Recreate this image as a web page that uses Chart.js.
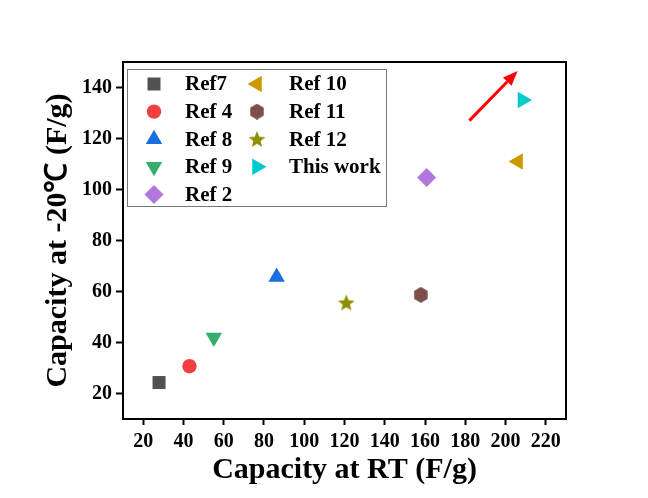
<!DOCTYPE html>
<html lang="en">
<head>
<meta charset="UTF-8">
<title>Capacity at -20℃ vs RT</title>
<script src="https://cdn.jsdelivr.net/npm/chart.js@4.4.1/dist/chart.umd.min.js"></script>
<style>
  html, body { margin: 0; padding: 0; background: #fff; }
  #wrap { width: 648px; height: 498px; }
</style>
</head>
<body>
<div id="wrap"><canvas id="chart" width="648" height="498"></canvas></div>
<script>
// data
const refNames = ['Ref7', 'Ref 4', 'Ref 8', 'Ref 9', 'Ref 2', 'Ref 10', 'Ref 11', 'Ref 12', 'This work'];
const capRT    = [27.9, 43.0, 86.3, 55.1, 160.8, 206.2, 157.9, 120.9, 208.4];
const capLow   = [24.3, 30.7, 65.7, 42.0, 104.7, 111.0, 58.7, 55.6, 135.1];
const colors   = ['#515151', '#F14040', '#1A6FDF', '#37AD6B', '#B177DE', '#CC9900', '#7D4E4E', '#8E8E00', '#00CBCC'];
const xTicks = [20, 40, 60, 80, 100, 120, 140, 160, 180, 200, 220];
const yTicks = [20, 40, 60, 80, 100, 120, 140];
// arrow from (x0,y0) to (x1,y1) in data units
const arrowX = [182, 206];
const arrowY = [127, 146.5];

const FONT = "'Liberation Serif', 'Times New Roman', serif";

function makeShape(color, size, drawFn) {
    const c = document.createElement('canvas');
    c.width = size; c.height = size;
    const g = c.getContext('2d');
    g.fillStyle = color;
    g.beginPath();
    drawFn(g, size / 2);
    g.closePath();
    g.fill();
    return c;
}
function hexagon(color) {
    return makeShape(color, 16, (g, h) => {
        for (let i = 0; i < 6; i++) {
            const a = Math.PI / 6 + i * Math.PI / 3;
            const px = h + 7.8 * Math.cos(a), py = h + 8 * Math.sin(a);
            if (i === 0) g.moveTo(px, py); else g.lineTo(px, py);
        }
    });
}
function star(color) {
    return makeShape(color, 18, (g, h) => {
        for (let i = 0; i < 10; i++) {
            const r = i % 2 === 0 ? 8.8 : 3.8;
            const a = -Math.PI / 2 + i * Math.PI / 5;
            const px = h + r * Math.cos(a), py = h + 0.6 + r * Math.sin(a);
            if (i === 0) g.moveTo(px, py); else g.lineTo(px, py);
        }
    });
}

const styles = [
    { pointStyle: 'rect', radius: 9.2, rotation: 0 },
    { pointStyle: 'circle', radius: 7.2, rotation: 0 },
    { pointStyle: 'triangle', radius: 9.5, rotation: 0 },
    { pointStyle: 'triangle', radius: 9.5, rotation: 180 },
    { pointStyle: 'rectRot', radius: 9.5, rotation: 0 },
    { pointStyle: 'triangle', radius: 9.5, rotation: 270 },
    { pointStyle: hexagon(colors[6]), radius: 8, rotation: 0 },
    { pointStyle: star(colors[7]), radius: 9, rotation: 0 },
    { pointStyle: 'triangle', radius: 9.5, rotation: 90 }
];

const datasets = refNames.map((name, i) => ({
    label: name,
    data: [{ x: capRT[i], y: capLow[i] }],
    backgroundColor: colors[i],
    borderColor: colors[i],
    pointBorderWidth: 0,
    pointStyle: styles[i].pointStyle,
    pointRadius: styles[i].radius,
    pointRotation: styles[i].rotation
}));

// full box around plot area + arrow + two-column legend
const framePlugin = {
    id: 'frame',
    afterDraw(chart) {
        const { ctx, chartArea: a, scales } = chart;
        ctx.save();
        ctx.strokeStyle = '#000';
        ctx.lineWidth = 2;
        ctx.strokeRect(a.left, a.top, a.right - a.left, a.bottom - a.top);

        // arrow
        const x0 = scales.x.getPixelForValue(arrowX[0]), y0 = scales.y.getPixelForValue(arrowY[0]);
        const x1 = scales.x.getPixelForValue(arrowX[1]), y1 = scales.y.getPixelForValue(arrowY[1]);
        const ang = Math.atan2(y1 - y0, x1 - x0);
        const hl = 15, hw = 6;
        const bx = x1 - hl * Math.cos(ang), by = y1 - hl * Math.sin(ang);
        ctx.strokeStyle = '#FF0000';
        ctx.fillStyle = '#FF0000';
        ctx.lineWidth = 3;
        ctx.beginPath();
        ctx.moveTo(x0, y0);
        ctx.lineTo(bx, by);
        ctx.stroke();
        ctx.beginPath();
        ctx.moveTo(x1, y1);
        ctx.lineTo(bx + hw * Math.sin(ang), by - hw * Math.cos(ang));
        ctx.lineTo(bx - hw * Math.sin(ang), by + hw * Math.cos(ang));
        ctx.closePath();
        ctx.fill();

        // legend
        ctx.fillStyle = '#fff';
        ctx.fillRect(127, 69, 260, 138);
        ctx.strokeStyle = '#777';
        ctx.lineWidth = 1;
        ctx.strokeRect(127.5, 69.5, 259, 137);
        ctx.font = "bold 21px " + FONT;
        ctx.textBaseline = 'middle';
        ctx.textAlign = 'left';
        refNames.forEach((name, i) => {
            const col = i < 5 ? 0 : 1;
            const row = i < 5 ? i : i - 5;
            const y = 84 + row * 27.6;
            const mx = col === 0 ? 154 : 257;
            const tx = col === 0 ? 185 : 289;
            ctx.fillStyle = colors[i];
            ctx.strokeStyle = colors[i];
            Chart.helpers.drawPoint(ctx, {
                pointStyle: styles[i].pointStyle,
                radius: styles[i].radius,
                rotation: styles[i].rotation,
                borderWidth: 0
            }, mx, y);
            ctx.fillStyle = '#000';
            ctx.fillText(name, tx, y + 1);
        });
        ctx.restore();
    }
};

new Chart(document.getElementById('chart'), {
    type: 'scatter',
    data: { datasets },
    options: {
        responsive: false,
        animation: false,
        layout: { padding: { left: 0, top: 62, right: 82, bottom: 0 } },
        plugins: {
            legend: { display: false },
            tooltip: { enabled: false }
        },
        scales: {
            x: {
                type: 'linear',
                min: 10,
                max: 230,
                afterBuildTicks: s => { s.ticks = xTicks.map(v => ({ value: v })); },
                afterFit: s => { s.height = 79; },
                grid: { drawOnChartArea: false, drawTicks: true, tickLength: 6, tickWidth: 2, tickColor: '#000' },
                border: { display: true, color: '#000', width: 2 },
                ticks: { color: '#000', padding: 5, maxRotation: 0, autoSkip: false, font: { family: FONT, size: 20, weight: 'bold' } },
                title: {
                    display: true,
                    text: 'Capacity at RT (F/g)',
                    color: '#000',
                    padding: { top: 0, bottom: 10 },
                    font: { family: FONT, size: 30, weight: 'bold' }
                }
            },
            y: {
                type: 'linear',
                min: 10,
                max: 150,
                afterBuildTicks: s => { s.ticks = yTicks.map(v => ({ value: v })); },
                afterFit: s => { s.width = 123; },
                grid: { drawOnChartArea: false, drawTicks: true, tickLength: 7, tickWidth: 2, tickColor: '#000' },
                border: { display: true, color: '#000', width: 2 },
                ticks: { color: '#000', padding: 4, autoSkip: false, font: { family: FONT, size: 20, weight: 'bold' } },
                title: {
                    display: true,
                    text: 'Capacity at -20℃ (F/g)',
                    color: '#000',
                    padding: { top: 40, bottom: 0 },
                    font: { family: FONT, size: 30, weight: 'bold' }
                }
            }
        }
    },
    plugins: [framePlugin]
});
</script>
</body>
</html>
